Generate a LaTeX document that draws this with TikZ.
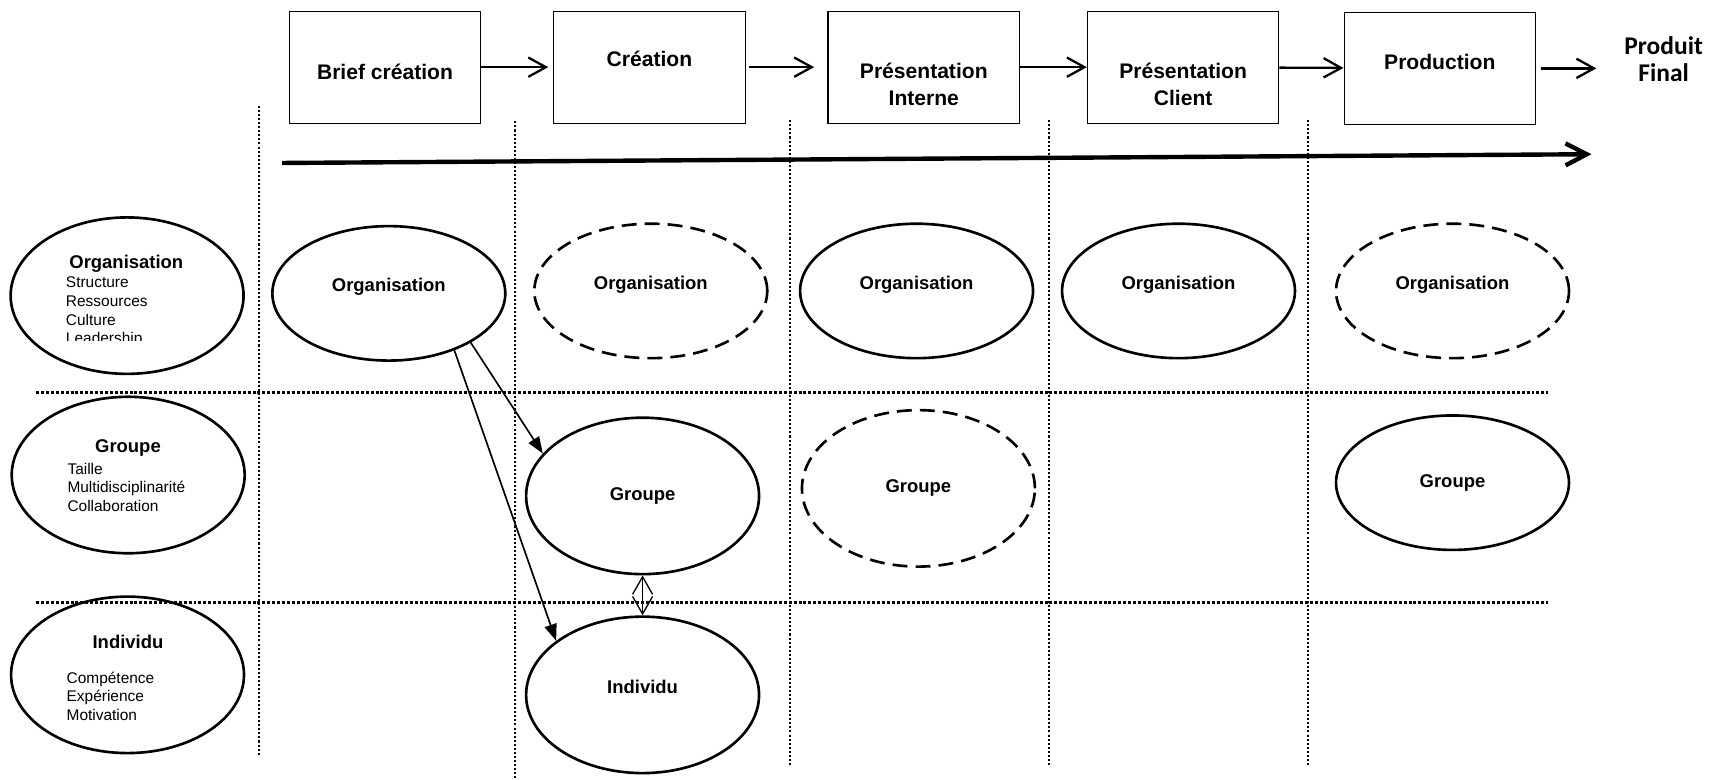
\documentclass[tikz,border=0pt]{standalone}
\usepackage{fontspec}
\setmainfont{Liberation Sans}
\newfontfamily\carlito{Carlito}
\usepackage{tikz}
\usetikzlibrary{shapes.geometric,arrows.meta}

\begin{document}
\begin{tikzpicture}
		[x=0.021875cm,y=-0.021875cm,
		%Styles
		stage/.style={draw,line width=0.65pt,minimum width=3.83cm,minimum height=2.24cm},
		stage text/.style={font=\bfseries\fontsize{12}{15}\selectfont,align=center},
		phase/.style={ellipse,draw,line width=1.5pt,inner sep=0pt,minimum width=4.66cm,font=\bfseries\fontsize{10.5}{12.6}\selectfont},
		flat/.style={phase,minimum height=2.69cm},
		tall/.style={phase,minimum height=3.13cm},
		maybe/.style={dash pattern=on 8.5pt off 4.6pt},
		lifted/.style={text height=7.5pt,text depth=9.5pt},
		factor title/.style={font=\bfseries\fontsize{10.5}{12.6}\selectfont},
		factor list/.style={anchor=north west,inner sep=0pt,align=left,font=\fontsize{8.8}{10.6}\selectfont},
		column line/.style={line width=0.95pt,dash pattern=on 1.15pt off 1.15pt},
		row line/.style={line width=1.5pt,dash pattern=on 1.7pt off 1.1pt},
		flow arrow/.style={-{Straight Barb[length=10pt,width=11pt]},line width=1.3pt},
		time arrow/.style={-{Straight Barb[length=12pt,width=12.5pt]},line width=2.5pt},
		influence/.style={-{Triangle[length=9.5pt,width=7pt]},line width=0.95pt},
		exchange/.style={{Straight Barb[length=10pt,width=11.4pt]}-{Straight Barb[length=10pt,width=11.4pt]},line width=0.75pt}
		]
		\useasboundingbox (0,0) rectangle (1568,713);

		%Grid
		\draw[column line,line width=1.1pt] (237,97) -- (237,690);
		\draw[column line] (471,111) -- (471,713);
		\foreach \x in {722,959,1196}
			\draw[column line] (\x,110) -- (\x,701);
		\draw[row line] (33,359) -- (1415,359);
		\draw[row line] (33,551) -- (1415,551);

		%Stages
		\node[stage] (brief) at (352,61.4) {};
		\node[stage] (cre) at (593.8,61.4) {};
		\node[stage] (pi) at (844.6,61.4) {};
		\node[stage] (pc) at (1081.7,61.4) {};
		\node[stage] (prod) at (1316.4,62.5) {};
		\node[stage text] (briefT) at (352,65.5) {Brief création};
		\node[stage text] (creT) at (593.8,54) {Création};
		\node[stage text] (piT) at (844.6,77) {Présentation\\Interne};
		\node[stage text] (pcT) at (1081.7,77) {Présentation\\Client};
		\node[stage text] (prodT) at (1316.4,56.5) {Production};
		\node[font=\carlito\bfseries\fontsize{14.5}{15.2}\selectfont,align=center] (final) at (1521,54) {Produit\\Final};

		\path 	(brief)	edge [flow arrow,shorten >=2.8pt] (cre)
				(cre)	edge [flow arrow,shorten <=1.9pt,shorten >=7.6pt] (pi)
				(pi)	edge [flow arrow] (pc)
				(pc)	edge [flow arrow] (prod)
				(prod.east)	edge [flow arrow,shorten <=2.5pt,shorten >=12.4pt] (prod.east -| final.west);

		%Time line
		\coordinate (timeStart) at (258,149);
		\coordinate (timeEnd) at (1455,141);
		\draw[time arrow] (timeStart) -- (timeEnd);

		%Levels (left)
		\node[tall] (orgL) at (116.2,270.3) {};
		\node[factor title] (orgLT) at (115.5,241) {Organisation};
		\begin{scope}
			\clip (0,200) rectangle (240,311);
			\node[factor list] (orgLL) at (60,253) {Structure\\Ressources\\Culture\\Leadership};
		\end{scope}
		\node[tall] (grpL) at (117.2,434.3) {};
		\node[factor title] (grpLT) at (117,410) {Groupe};
		\node[factor list] (grpLL) at (61.4,422.8) {Taille\\Multidisciplinarité\\Collaboration};
		\node[tall] (indL) at (116.6,617) {};
		\node[factor title] (indLT) at (117,586.6) {Individu};
		\node[factor list] (indLL) at (60.6,613.8) {Compétence\\Expérience\\Motivation};

		%Levels per stage
		\node[flat,lifted] (org1) at (355.5,268.2) {Organisation};
		\node[flat,lifted,maybe] (org2) at (595,266) {Organisation};
		\node[flat,lifted] (org3) at (838,266) {Organisation};
		\node[flat,lifted] (org4) at (1077.5,266) {Organisation};
		\node[flat,lifted,maybe] (org5) at (1328,266) {Organisation};
		\node[tall] (grp2) at (587.5,453.4) {Groupe};
		\node[tall,maybe] (grp3) at (839.7,446.5) {Groupe};
		\node[flat] (grp5) at (1328,441.3) {Groupe};
		\node[tall,lifted] (ind2) at (587.5,635.3) {Individu};

		\path 	(org1.-31)	edge [influence] (grp2.157)
				(org1.-41)	edge [influence] (ind2.148)
				(grp2.south)	edge [exchange] (ind2.north);
	\end{tikzpicture}
\end{document}
